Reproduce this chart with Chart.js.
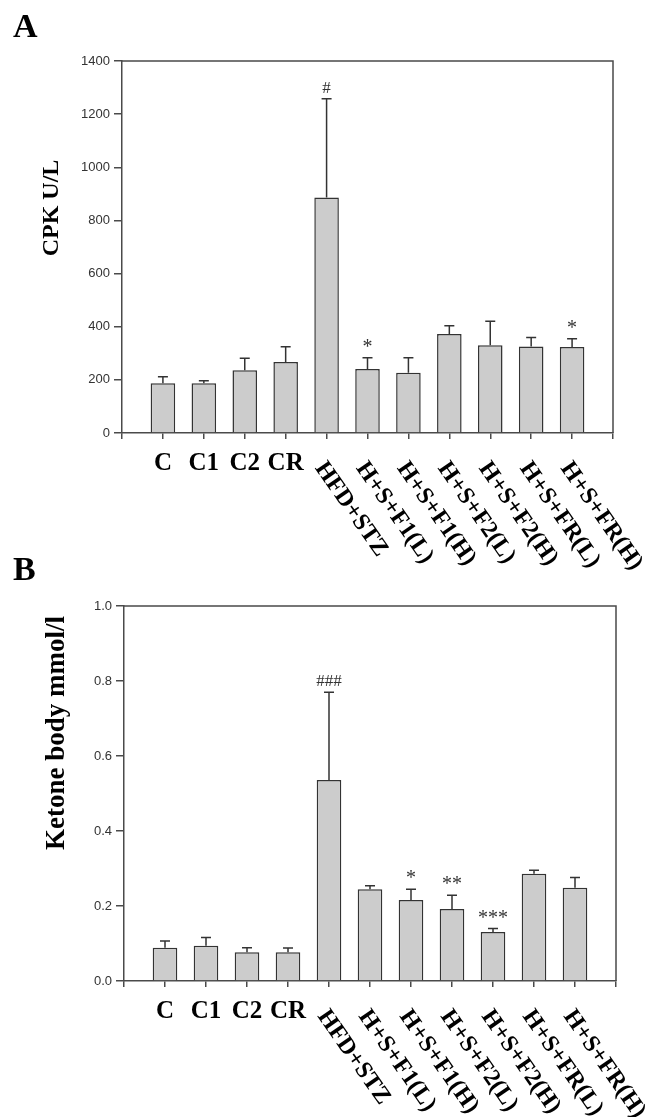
<!DOCTYPE html>
<html>
<head>
<meta charset="utf-8">
<script src="https://cdn.jsdelivr.net/npm/chart.js@4"></script>
<style>
  body { margin: 0; background: #fff; }
  .panel { position: absolute; left: 0; width: 656px; }
</style>
</head>
<body>
<div class="panel" style="top:0;height:610px"><canvas id="chartA"></canvas></div>
<div class="panel" style="top:545px;height:572px"><canvas id="chartB"></canvas></div>
<script>
// empty slot at each end, like the original axis
let groups = ['', 'C', 'C1', 'C2', 'CR', 'HFD+STZ', 'H+S+F1(L)', 'H+S+F1(H)', 'H+S+F2(L)', 'H+S+F2(H)', 'H+S+FR(L)', 'H+S+FR(H)', ''];

let cpk = [null, 187, 187, 236, 267, 886, 241, 227, 373, 330, 326, 324, null];
let cpkErr = [null, 25, 10, 45, 58, 372, 42, 56, 31, 91, 33, 31, null];
let cpkMarks = ['', '', '', '', '', '#', '*', '', '', '', '', '*', ''];
let cpkTicks = [0, 200, 400, 600, 800, 1000, 1200, 1400];

let ketone = [null, 0.089, 0.094, 0.077, 0.077, 0.536, 0.245, 0.216, 0.192, 0.131, 0.286, 0.249, null];
let ketoneErr = [null, 0.018, 0.022, 0.012, 0.011, 0.234, 0.009, 0.029, 0.037, 0.009, 0.0095, 0.027, null];
let ketoneMarks = ['', '', '', '', '', '###', '', '*', '**', '***', '', '', ''];
let ketoneTicks = [0, 0.2, 0.4, 0.6, 0.8, 1.0];

let axisColor = '#4a4a4a';

// error bars, significance marks, frame, rotated group labels, titles
const panelDecor = {
  id: 'panelDecor',
  afterDatasetsDraw(chart, args, opts) {
    const ctx = chart.ctx;
    const y = chart.scales.y;
    const meta = chart.getDatasetMeta(0);
    ctx.save();
    ctx.strokeStyle = '#333';
    ctx.lineWidth = 1.5;
    ctx.fillStyle = '#333';
    ctx.textAlign = 'center';
    meta.data.forEach((bar, i) => {
      const v = opts.values[i];
      if (v == null) return;
      const top = y.getPixelForValue(v + opts.errors[i]);
      ctx.beginPath();
      ctx.moveTo(bar.x, bar.y);
      ctx.lineTo(bar.x, top);
      ctx.moveTo(bar.x - 5, top);
      ctx.lineTo(bar.x + 5, top);
      ctx.stroke();
      const m = opts.marks[i];
      if (m) {
        if (m[0] === '#') {
          ctx.font = '17px "Liberation Serif"';
          ctx.fillText(m, bar.x, top - 6);
        } else {
          ctx.font = '20px "Liberation Serif"';
          ctx.fillText(m, bar.x, top - 5);
        }
      }
    });
    ctx.restore();
  },
  afterDraw(chart, args, opts) {
    const ctx = chart.ctx;
    const a = chart.chartArea;
    const x = chart.scales.x;
    ctx.save();
    // top and right side of the frame
    ctx.strokeStyle = axisColor;
    ctx.lineWidth = 1.5;
    ctx.beginPath();
    ctx.moveTo(a.left, a.top);
    ctx.lineTo(a.right, a.top);
    ctx.lineTo(a.right, a.bottom);
    ctx.stroke();

    // group labels
    ctx.fillStyle = '#000';
    groups.forEach((g, i) => {
      if (!g) return;
      const px = x.getPixelForValue(i);
      if (g.length <= 2) {
        ctx.font = 'bold 25px "Liberation Serif"';
        ctx.textAlign = 'center';
        ctx.fillText(g, px, a.bottom + 37);
      } else {
        ctx.save();
        ctx.font = 'bold 24px "Liberation Serif"';
        ctx.translate(px - 12, a.bottom + 35);
        ctx.rotate(55 * Math.PI / 180);
        ctx.textAlign = 'left';
        ctx.fillText(g, 0, 0);
        ctx.restore();
      }
    });

    // y title
    ctx.save();
    ctx.translate(opts.titleX, opts.titleY);
    ctx.rotate(-Math.PI / 2);
    ctx.textAlign = 'center';
    ctx.textBaseline = 'middle';
    ctx.font = 'bold ' + opts.titleSize + 'px "Liberation Serif"';
    ctx.fillText(opts.title, 0, 0);
    ctx.restore();

    // panel letter
    ctx.textAlign = 'left';
    ctx.font = 'bold 34px "Liberation Serif"';
    ctx.fillText(opts.letter, 13, opts.letterY);
    ctx.restore();
  }
};

function makeChart(id, values, errors, marks, ticks, yMax, yWidth, padding, deco, fmt) {
  return new Chart(document.getElementById(id).getContext('2d'), {
    type: 'bar',
    data: {
      labels: groups,
      datasets: [{
        data: values,
        backgroundColor: '#cccccc',
        borderColor: '#333',
        borderWidth: 1.5,
        barPercentage: 0.6,
        categoryPercentage: 1
      }]
    },
    options: {
      animation: false,
      responsive: true,
      maintainAspectRatio: false,
      layout: { padding: padding },
      plugins: {
        legend: { display: false },
        tooltip: { enabled: false },
        panelDecor: Object.assign({ values: values, errors: errors, marks: marks }, deco)
      },
      scales: {
        x: {
          offset: false,
          afterFit: s => { s.height = 0; },
          border: { color: axisColor, width: 1.5 },
          grid: { offset: false, drawOnChartArea: false, tickLength: 6, color: axisColor, lineWidth: 1.5 },
          ticks: { display: false }
        },
        y: {
          min: 0,
          max: yMax,
          afterBuildTicks: s => { s.ticks = ticks.map(v => ({ value: v })); },
          afterFit: s => { s.width = yWidth; },
          border: { color: axisColor, width: 1.5 },
          grid: { drawOnChartArea: false, tickLength: 8, color: axisColor, lineWidth: 1.5 },
          ticks: {
            font: { family: 'Liberation Sans', size: 13 },
            color: '#333',
            padding: 4,
            callback: fmt
          }
        }
      }
    },
    plugins: [panelDecor]
  });
}

let chartA = makeChart('chartA', cpk, cpkErr, cpkMarks, cpkTicks, 1400, 122,
  { top: 61, right: 43, bottom: 177, left: 0 },
  { title: 'CPK U/L', titleX: 52, titleY: 208, titleSize: 24, letter: 'A', letterY: 37 },
  v => String(v));

let chartB = makeChart('chartB', ketone, ketoneErr, ketoneMarks, ketoneTicks, 1.0, 124,
  { top: 61, right: 40, bottom: 136, left: 0 },
  { title: 'Ketone body mmol/l', titleX: 57, titleY: 188, titleSize: 27, letter: 'B', letterY: 35 },
  v => Number(v).toFixed(1));
</script>
</body>
</html>
